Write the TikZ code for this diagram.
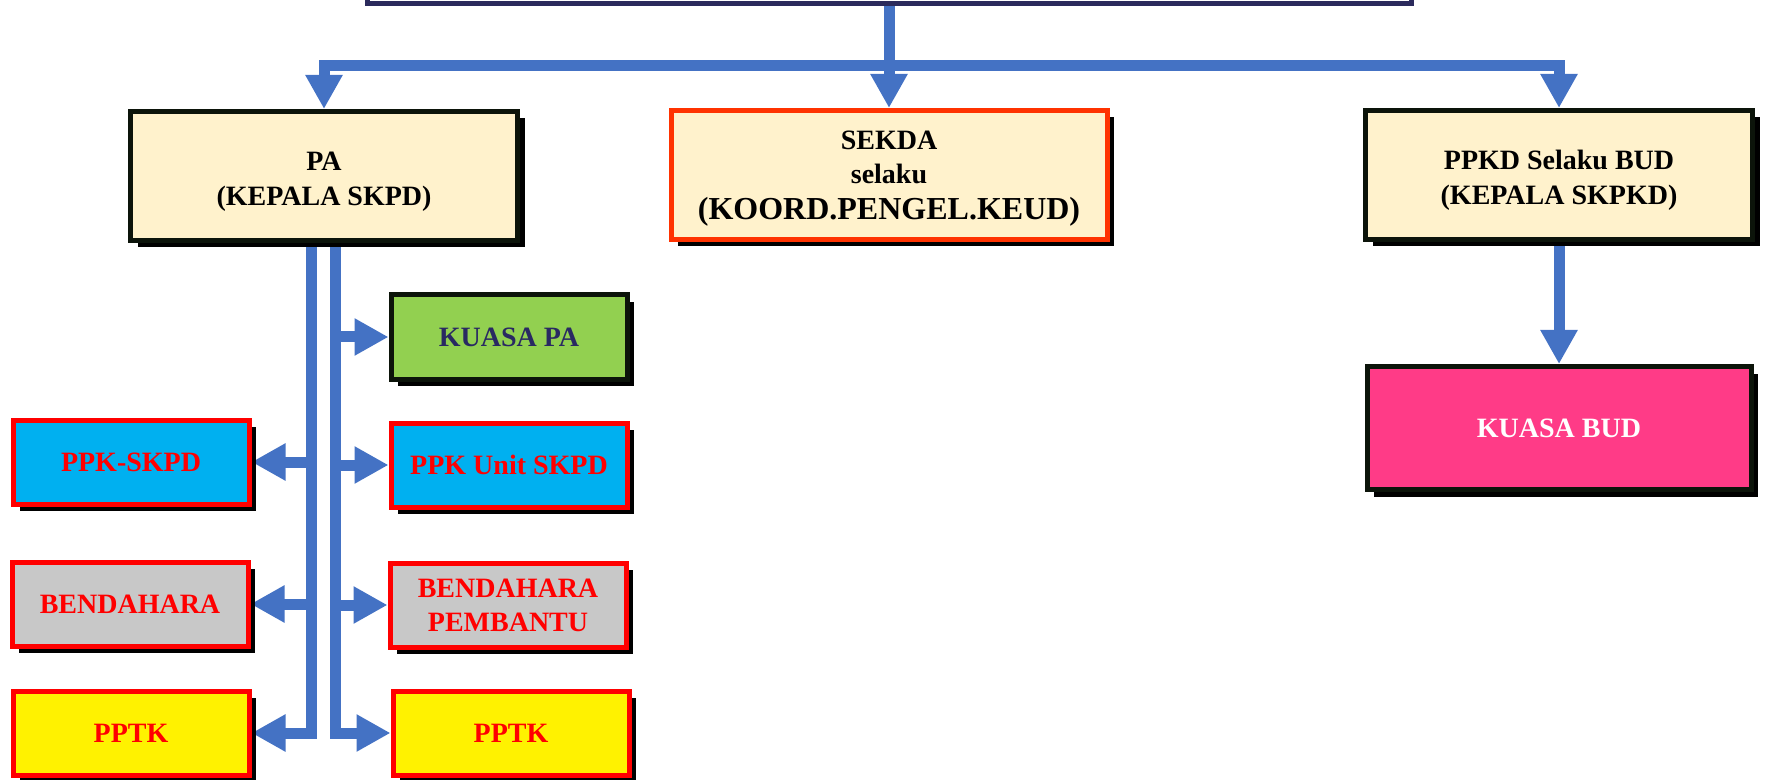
\documentclass[tikz,border=0pt]{standalone}
\usepackage{fontspec}
\setmainfont{Liberation Serif}
\usetikzlibrary{arrows.meta,shadows,backgrounds}

\definecolor{flowblue}{HTML}{4472C4}
\definecolor{cream}{HTML}{FFF2CC}
\definecolor{navyline}{HTML}{2B2A5C}
\definecolor{darkedge}{HTML}{0C140A}
\definecolor{sekdaedge}{HTML}{FF3300}
\definecolor{skyfill}{HTML}{00B0F0}
\definecolor{greyfill}{HTML}{C8C8C8}
\definecolor{leaf}{HTML}{92D050}
\definecolor{pinkfill}{HTML}{FF3B87}
\definecolor{navytext}{HTML}{292962}

% taller first line pushes the text block a little below the box centre
\newcommand{\toplift}[1]{\rule{0pt}{#1}}

\tikzset{
  box/.style={draw, line width=2.5pt, align=center, inner sep=0pt,
    drop shadow={shadow xshift=3.5pt, shadow yshift=-3.5pt, opacity=1, fill=black}},
  bigbox/.style={box, minimum width=193.5pt, minimum height=64.5pt,
    font=\fontsize{14}{17.5}\selectfont\bfseries},
  smallbox/.style={box, minimum width=118pt, minimum height=42pt,
    font=\fontsize{14}{17}\selectfont\bfseries},
  redbox/.style={smallbox, draw=red, text=red},
  vflow/.style={color=flowblue, line width=5.5pt, -{Triangle[width=17.5pt,length=17pt]}},
  hflow/.style={color=flowblue, line width=5.5pt, -{Triangle[width=17.5pt,length=17pt]}},
}

\begin{document}
\begin{tikzpicture}[x=0.5pt, y=-0.5pt]
\useasboundingbox (0,0) rectangle (1765,780);
\clip (0,0) rectangle (1765,780);

% top unit (only its lower edge lies on the page)
\node[draw=navyline, line width=2.5pt, fill=white, minimum width=522pt,
      minimum height=27.5pt, inner sep=0pt] (top) at (889,-24) {};

% first level
\node[bigbox, draw=darkedge, fill=cream] (pa) at (324,176)
  {\toplift{14.5pt}PA\\(KEPALA SKPD)};
\node[box, draw=sekdaedge, fill=cream, minimum width=218pt, minimum height=64.5pt,
      font=\fontsize{14}{17}\selectfont\bfseries]
  (sekda) at (889,175) {\toplift{12.8pt}SEKDA\\ selaku\\[1pt]
    \fontsize{16}{17}\selectfont (KOORD.PENGEL.KEUD)};
\node[bigbox, draw=darkedge, fill=cream] (ppkd) at (1559,175)
  {\toplift{15pt}PPKD Selaku BUD\\(KEPALA SKPKD)};

% under PPKD
\node[box, draw=darkedge, fill=pinkfill, text=white, minimum width=192pt,
      minimum height=61.5pt, font=\fontsize{14}{17}\selectfont\bfseries]
  (kbud) at (1559,428) {KUASA BUD};

% under PA, right column
\node[smallbox, draw=darkedge, fill=leaf, text=navytext] (kpa) at (509,337) {KUASA PA};
\node[redbox, fill=skyfill] (ppkU) at (509,465) {PPK Unit SKPD};
\node[redbox, fill=greyfill] (bendP) at (508,605) {BENDAHARA\\PEMBANTU};
\node[redbox, fill=yellow] (pptkR) at (511,733) {PPTK};

% under PA, left column
\node[redbox, fill=skyfill] (ppkS) at (131,462) {PPK-SKPD};
\node[redbox, fill=greyfill] (bend) at (130,604) {BENDAHARA};
\node[redbox, fill=yellow] (pptkL) at (131,733) {PPTK};

\coordinate (bar) at (889,66);
\coordinate (lv) at (311.5,240);
\coordinate (rv) at (335.5,240);

\begin{scope}[on background layer]
  \draw[vflow] (top.south) -- (sekda.north);
  \draw[vflow] (bar) -| (pa.north);
  \draw[vflow] (bar) -| (ppkd.north);
  \draw[vflow] (ppkd.south) -- (kbud.north);

  \draw[hflow] (lv) |- (pptkL.east);
  \draw[hflow] (rv) |- (pptkR.west);
  \draw[hflow] (rv |- kpa.west) -- (kpa.west);
  \draw[hflow] (rv |- ppkU.west) -- (ppkU.west);
  \draw[hflow] (rv |- bendP.west) -- (bendP.west);
  \draw[hflow] (lv |- ppkS.east) -- (ppkS.east);
  \draw[hflow] (lv |- bend.east) -- (bend.east);
\end{scope}
\end{tikzpicture}
\end{document}
